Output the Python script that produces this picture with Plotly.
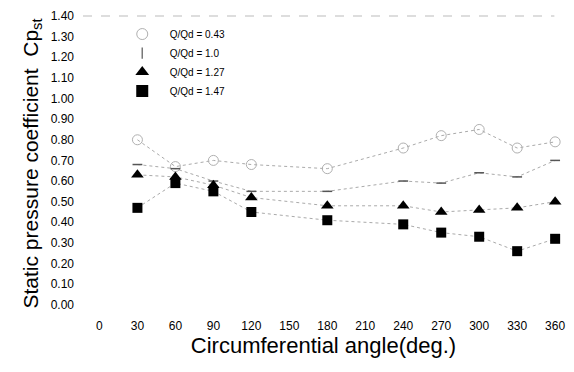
import plotly.graph_objects as go

angles = [30, 60, 90, 120, 180, 240, 270, 300, 330, 360]
cp_043 = [0.80, 0.67, 0.70, 0.68, 0.66, 0.76, 0.82, 0.85, 0.76, 0.79]
cp_100 = [0.68, 0.66, 0.60, 0.55, 0.55, 0.60, 0.59, 0.64, 0.62, 0.70]
cp_127 = [0.63, 0.62, 0.58, 0.52, 0.48, 0.48, 0.45, 0.46, 0.47, 0.50]
cp_147 = [0.47, 0.59, 0.55, 0.45, 0.41, 0.39, 0.35, 0.33, 0.26, 0.32]
names = ["Q/Qd = 0.43", "Q/Qd = 1.0", "Q/Qd = 1.27", "Q/Qd = 1.47"]
x_ticks = [0, 30, 60, 90, 120, 150, 180, 210, 240, 270, 300, 330, 360]
y_ticks = [round(i * 0.1, 2) for i in range(15)]

series = [
    (cp_043, dict(symbol="circle-open", size=10, color="#b0b0b0", line=dict(width=1, color="#b0b0b0"))),
    (cp_100, dict(symbol="line-ew-open", size=7, color="#555555", line=dict(width=1.5, color="#555555"))),
    (cp_127, dict(symbol="triangle-up", size=11, color="black")),
    (cp_147, dict(symbol="square", size=10, color="black")),
]
legend_markers = [
    dict(symbol="circle-open", size=11, color="#b0b0b0", line=dict(width=1, color="#b0b0b0")),
    dict(symbol="line-ns-open", size=8, color="#777777", line=dict(width=1.5, color="#777777")),
    dict(symbol="triangle-up", size=12, color="black"),
    dict(symbol="square", size=12, color="black"),
]

fig = go.Figure()
for (vals, mk), nm in zip(series, names):
    fig.add_trace(go.Scatter(
        x=angles, y=vals, name=nm, mode="lines+markers", showlegend=False,
        line=dict(color="#aaaaaa", width=1, dash="dot"),
        marker=mk,
    ))
for lm, nm in zip(legend_markers, names):
    fig.add_trace(go.Scatter(x=[None], y=[None], name=nm, mode="markers", marker=lm))

fig.update_layout(
    width=574, height=372,
    margin=dict(l=83, r=9, t=12, b=61),
    paper_bgcolor="white", plot_bgcolor="white",
    font=dict(family="Liberation Sans, Arial, sans-serif", color="black"),
    showlegend=True,
    legend=dict(x=0.066, y=0.988, xanchor="left", yanchor="top",
                bgcolor="rgba(0,0,0,0)", font=dict(size=10),
                itemwidth=45, tracegroupgap=0),
    xaxis=dict(range=[-13, 367], tickvals=x_ticks, ticks="", showgrid=False,
               zeroline=False, showline=False, tickfont=dict(size=12),
               ticklabelstandoff=6,
               title=dict(text="Circumferential angle(deg.)", font=dict(size=22), standoff=2)),
    yaxis=dict(range=[-0.03, 1.40], tickvals=y_ticks, tickformat=".2f", ticks="",
               showgrid=False, zeroline=False, showline=False, tickfont=dict(size=12),
               ticklabelstandoff=8,
               title=dict(text="Static pressure coefficient  Cp<sub>st</sub>", font=dict(size=21), standoff=6)),
    shapes=[dict(type="line", xref="paper", yref="paper", x0=0, x1=0.98, y0=1, y1=1,
                 line=dict(color="#bbbbbb", width=1, dash="dash"))],
)

fig.write_html("out.html")
